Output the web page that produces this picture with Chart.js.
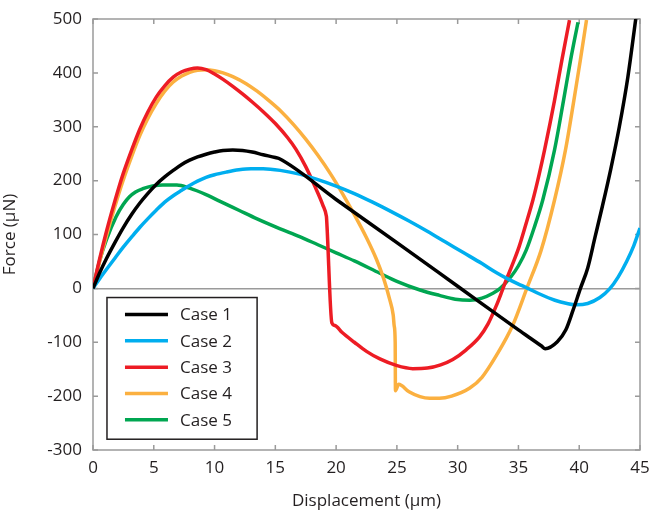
<!DOCTYPE html>
<html>
<head>
<meta charset="utf-8">
<title>Force vs Displacement</title>
<script src="https://cdn.jsdelivr.net/npm/chart.js@4.4.1/dist/chart.umd.min.js"></script>
<style>
  html, body { margin: 0; padding: 0; background: #fff; }
  #wrap { position: relative; width: 649px; height: 515px; }
</style>
</head>
<body>
<div id="wrap"><canvas id="chart-fd" width="649" height="515"></canvas></div>
<script>
'use strict';

// Displacement (um) / Force (uN)
const case1X = [0, 0.55, 1.1, 1.8, 2.47, 3.2, 3.84, 4.5, 5.2, 5.9, 6.6, 7.3, 7.95, 8.6, 9.3, 10, 10.7, 11.5, 12.3, 13.1, 14, 15, 15.3, 20, 25, 30, 35, 36.9, 37.2, 38.2, 38.9, 39.5, 40.1, 40.7, 41.3, 41.9, 42.6, 43.3, 44, 44.65];
const case1Y = [0, 29, 55, 85, 112, 138, 158, 176, 193, 207, 219, 230, 238, 244, 249, 253, 256, 257, 256, 253, 248, 243, 241, 165, 85, 4, -77, -107, -112, -99, -77, -40, 0, 38, 95, 152, 222, 300, 392, 500];

const case2X = [0, 0.55, 1.1, 1.8, 2.47, 3.2, 3.84, 4.5, 5.2, 5.9, 6.6, 7.3, 7.95, 8.6, 9.3, 10, 11, 12, 13, 14, 15.4, 17, 18.5, 20, 21.5, 23, 24.5, 26, 27.5, 29, 30.5, 32, 33.2, 34, 35, 35.6, 36.7, 38, 39, 39.75, 40.7, 41.7, 42.5, 43.2, 43.9, 44.5, 45];
const case2Y = [0, 18, 35, 56, 76, 96, 113, 129, 145, 160, 172, 182, 191, 199, 206, 211, 216, 220, 222, 222, 219, 212, 202, 190, 176, 160, 143, 125, 106, 86, 66, 46, 29, 19, 8, 2, -10, -22, -28, -30.5, -28, -17, -1, 21, 50, 80, 112];

const case3X = [0, 0.55, 1.1, 1.8, 2.47, 3.2, 3.84, 4.5, 5.2, 5.9, 6.6, 7.3, 7.95, 8.6, 9.3, 10, 10.7, 11.5, 12.3, 13.1, 14, 15, 16, 16.7, 17.5, 18.3, 18.9, 19.2, 19.21, 19.65, 19.9, 20.5, 21.5, 22.5, 23.6, 24.95, 26.3, 27.5, 28.6, 29.6, 30.7, 31.8, 32.5, 33.2, 33.6, 34, 34.5, 35.05, 35.6, 36.19, 36.7, 37.15, 37.97, 38.6, 39.2];
const case3Y = [0, 55, 105, 162, 212, 258, 295, 327, 355, 376, 392, 402, 407, 409, 406, 398, 388, 375, 361, 346, 328, 306, 280, 258, 226, 187, 155, 134, 132, -64, -69, -82, -100, -117, -131, -143, -149, -148, -142, -132, -114, -90, -66, -31, -8, 16, 44, 77, 118, 164, 211, 257, 349, 427, 498];

const case4X = [0, 0.55, 1.1, 1.8, 2.47, 3.2, 3.84, 4.5, 5.2, 5.9, 6.6, 7.3, 7.95, 8.6, 9.3, 10, 10.7, 11.5, 12.6, 13.5, 14.5, 15.5, 16.5, 17.5, 18.5, 19.5, 20.5, 21.5, 22.5, 23.3, 23.9, 24.4, 24.7, 24.78, 24.86, 24.88, 25.15, 26, 26.9, 27.7, 28.5, 29.5, 31, 32, 33.2, 34.5, 35.69, 36.87, 37.97, 38.87, 39.56, 40.1, 40.6];
const case4Y = [0, 50, 97, 152, 200, 246, 283, 315, 343, 366, 383, 394, 401, 405, 406, 404, 400, 393, 380, 366, 348, 328, 304, 277, 247, 214, 177, 137, 94, 55, 19, -20, -50, -70, -100, -190, -178, -192, -201, -204, -204, -200, -185, -165, -124, -70, 0, 71, 164, 257, 349, 425, 498];

const case5X = [0, 0.55, 1.1, 1.9, 2.5, 3, 3.5, 4.1, 4.9, 5.75, 6.9, 7.95, 9.3, 10.5, 12, 13.5, 15.35, 17, 18.5, 20, 21.5, 23.6, 25, 26.9, 28.5, 29.8, 31, 32, 32.9, 33.5, 34.4, 35, 35.64, 36.3, 37, 37.97, 38.71, 39.3, 39.9];
const case5Y = [0, 52, 90, 133, 156, 170, 179, 185, 190, 192, 192, 186, 174, 161, 145, 129, 111, 96, 81, 66, 51, 28, 13, -3, -13, -20, -22, -18, -9, 0, 22, 42, 71, 113, 164, 257, 349, 425, 494];

const caseNames = ['Case 1', 'Case 2', 'Case 3', 'Case 4', 'Case 5'];
const caseColors = ['#000000', '#00aeef', '#ed1c24', '#fbb040', '#00a651'];

const xTicks = [0, 5, 10, 15, 20, 25, 30, 35, 40, 45];
const yTicks = [-300, -200, -100, 0, 100, 200, 300, 400, 500];

const FONT = '"Open Sans", "Noto Sans", sans-serif';
const TEXT_COLOR = '#231f20';
const FRAME_COLOR = '#9a9a9a';

function toPoints(xs, ys) {
  return xs.map((x, i) => ({ x: x, y: ys[i] }));
}

const series = [
  toPoints(case1X, case1Y),
  toPoints(case2X, case2Y),
  toPoints(case3X, case3Y),
  toPoints(case4X, case4Y),
  toPoints(case5X, case5Y)
];

// frame round the plot with inward ticks on all four sides
const framePlugin = {
  id: 'frame',
  beforeDatasetsDraw(chart) {
    const ctx = chart.ctx;
    const a = chart.chartArea;
    const xs = chart.scales.x, ys = chart.scales.y;
    const tl = 5;
    ctx.save();
    ctx.strokeStyle = FRAME_COLOR;
    ctx.lineWidth = 1.5;
    ctx.strokeRect(a.left, a.top, a.right - a.left, a.bottom - a.top);
    ctx.beginPath();
    xTicks.forEach(v => {
      const px = xs.getPixelForValue(v);
      ctx.moveTo(px, a.top); ctx.lineTo(px, a.top + tl);
      ctx.moveTo(px, a.bottom); ctx.lineTo(px, a.bottom - tl);
    });
    yTicks.forEach(v => {
      const py = ys.getPixelForValue(v);
      ctx.moveTo(a.left, py); ctx.lineTo(a.left + tl, py);
      ctx.moveTo(a.right, py); ctx.lineTo(a.right - tl, py);
    });
    ctx.stroke();
    ctx.restore();
  }
};

// boxed legend sitting inside the plot, lower left
const legendPlugin = {
  id: 'boxLegend',
  afterDatasetsDraw(chart) {
    const ctx = chart.ctx;
    const xs = chart.scales.x, ys = chart.scales.y;
    const left = xs.getPixelForValue(1.15);
    const right = xs.getPixelForValue(13.5);
    const top = ys.getPixelForValue(-17);
    const bottom = ys.getPixelForValue(-280);
    ctx.save();
    ctx.fillStyle = '#fff';
    ctx.fillRect(left, top, right - left, bottom - top);
    ctx.strokeStyle = TEXT_COLOR;
    ctx.lineWidth = 1.5;
    ctx.strokeRect(left, top, right - left, bottom - top);
    ctx.font = '17px ' + FONT;
    ctx.textBaseline = 'middle';
    ctx.textAlign = 'left';
    chart.data.datasets.forEach((ds, i) => {
      const y = top + 17 + i * 26.3;
      ctx.strokeStyle = ds.borderColor;
      ctx.lineWidth = 3.5;
      ctx.beginPath();
      ctx.moveTo(left + 18, y);
      ctx.lineTo(left + 61, y);
      ctx.stroke();
      ctx.fillStyle = TEXT_COLOR;
      ctx.fillText(ds.label, left + 73, y + 1);
    });
    ctx.restore();
  }
};

const chartFd = new Chart(document.getElementById('chart-fd').getContext('2d'), {
  type: 'line',
  data: {
    datasets: series.map((pts, i) => ({
      label: caseNames[i],
      data: pts,
      borderColor: caseColors[i],
      backgroundColor: caseColors[i],
      borderWidth: 3.5,
      pointRadius: 0,
      cubicInterpolationMode: 'monotone',
      fill: false,
      borderJoinStyle: 'round'
    }))
  },
  options: {
    responsive: false,
    animation: false,
    layout: { padding: { left: 0, right: 9, top: 19, bottom: 0 } },
    plugins: {
      legend: { display: false },
      tooltip: { enabled: false }
    },
    scales: {
      x: {
        type: 'linear',
        min: 0,
        max: 45,
        afterFit(scale) {
          scale.height = 65;
          scale.paddingLeft = 0;
          scale.paddingRight = 0;
        },
        afterBuildTicks(scale) { scale.ticks = xTicks.map(v => ({ value: v })); },
        grid: { display: false, drawTicks: false },
        border: { display: false },
        ticks: {
          color: TEXT_COLOR,
          font: { family: FONT, size: 17 },
          padding: 8,
          maxRotation: 0
        },
        title: {
          display: true,
          text: 'Displacement (\u03bcm)',
          color: TEXT_COLOR,
          font: { family: FONT, size: 17 },
          padding: { top: 2, bottom: 4 }
        }
      },
      y: {
        type: 'linear',
        min: -300,
        max: 500,
        afterFit(scale) {
          scale.width = 93;
          scale.paddingTop = 0;
          scale.paddingBottom = 0;
        },
        afterBuildTicks(scale) { scale.ticks = yTicks.map(v => ({ value: v })); },
        grid: {
          drawTicks: false,
          lineWidth: 1.5,
          color: c => (c.tick && c.tick.value === 0) ? FRAME_COLOR : 'rgba(0,0,0,0)'
        },
        border: { display: false },
        ticks: {
          color: TEXT_COLOR,
          font: { family: FONT, size: 17 },
          padding: 11
        },
        title: {
          display: true,
          text: 'Force (\u03bcN)',
          color: TEXT_COLOR,
          font: { family: FONT, size: 17 },
          padding: { top: 0, bottom: 0 }
        }
      }
    }
  },
  plugins: [framePlugin, legendPlugin]
});
</script>
</body>
</html>
